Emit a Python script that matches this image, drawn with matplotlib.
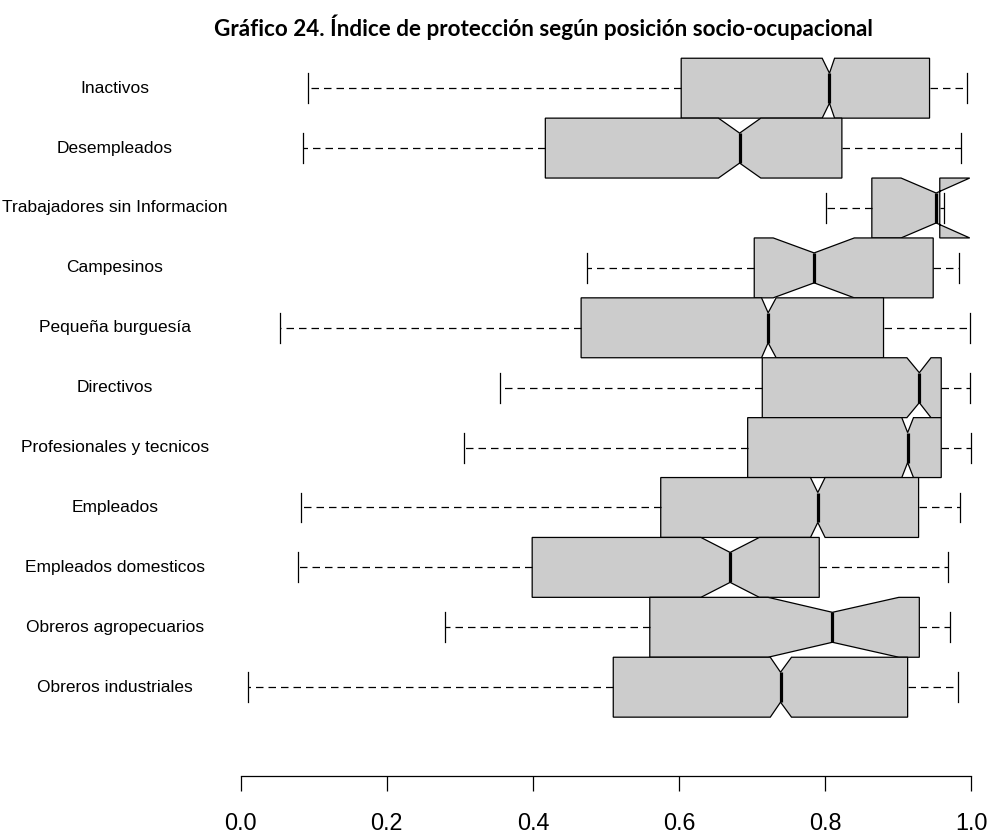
import matplotlib
matplotlib.use("Agg")
import matplotlib.pyplot as plt
import matplotlib.transforms as mtransforms

# grupos, de arriba hacia abajo
labels = ["Inactivos", "Desempleados", "Trabajadores sin Informacion",
          "Campesinos", "Pequeña burguesía", "Directivos",
          "Profesionales y tecnicos", "Empleados", "Empleados domesticos",
          "Obreros agropecuarios", "Obreros industriales"]

whislo = [0.092, 0.085, 0.801, 0.474, 0.054, 0.355, 0.305, 0.082, 0.079, 0.279, 0.010]
q1     = [0.603, 0.417, 0.864, 0.703, 0.466, 0.714, 0.694, 0.575, 0.399, 0.560, 0.510]
cilo   = [0.796, 0.654, 0.904, 0.729, 0.713, 0.912, 0.905, 0.780, 0.630, 0.722, 0.725]
med    = [0.806, 0.683, 0.952, 0.785, 0.722, 0.929, 0.913, 0.790, 0.670, 0.810, 0.739]
cihi   = [0.813, 0.712, 0.998, 0.840, 0.733, 0.945, 0.921, 0.800, 0.710, 0.901, 0.754]
q3     = [0.943, 0.823, 0.957, 0.948, 0.880, 0.959, 0.959, 0.928, 0.792, 0.929, 0.913]
whishi = [0.994, 0.986, 0.963, 0.983, 0.999, 0.998, 1.000, 0.985, 0.968, 0.971, 0.982]

xticks = [0.0, 0.2, 0.4, 0.6, 0.8, 1.0]
title = "Gráfico 24. Índice de protección según posición socio-ocupacional"

stats = []
for i in range(len(labels)):
    stats.append(dict(label=labels[i], whislo=whislo[i], q1=q1[i], cilo=cilo[i],
                      med=med[i], cihi=cihi[i], q3=q3[i], whishi=whishi[i], fliers=[]))
positions = list(range(len(labels), 0, -1))

W, H = 989, 834
fig = plt.figure(figsize=(W / 100, H / 100), dpi=100)
ax = fig.add_axes([211.5 / W, (H - 775.7) / H, 788.9 / W, 730.7 / H])

ax.bxp(stats, positions=positions, widths=1.0, orientation="horizontal",
       shownotches=True, patch_artist=True, showfliers=False, manage_ticks=False,
       boxprops=dict(facecolor="#cccccc", edgecolor="black", linewidth=0.9),
       medianprops=dict(color="black", linewidth=2.3, solid_capstyle="butt"),
       whiskerprops=dict(color="black", linewidth=0.9, linestyle=(0, (6, 4))),
       capprops=dict(color="black", linewidth=0.9))

ax.set_xlim(-0.04, 1.04)
ax.set_ylim(-0.4775, 11.721)

for s in ["top", "right", "left"]:
    ax.spines[s].set_visible(False)
ax.spines["bottom"].set_bounds(0, 1)
ax.spines["bottom"].set_linewidth(0.9)
ax.set_xticks(xticks)
ax.set_xticklabels(["%.1f" % t for t in xticks], family="Liberation Sans", fontsize=16.8)
ax.tick_params(axis="x", length=10.8, width=0.9, pad=15)
ax.set_yticks([])

# etiquetas de grupo centradas a la izquierda
trans = mtransforms.blended_transform_factory(fig.transFigure, ax.transData)
for lab, p in zip(labels, positions):
    ax.text(115 / W, p, lab, transform=trans, ha="center", va="center",
            family="Liberation Sans", fontsize=12.5, clip_on=False)

fig.text(543 / W, 1 - 27 / H, title, ha="center", va="center",
         family="Lato", fontweight="bold", fontsize=16.2)

fig.savefig("out.png", dpi=100)
